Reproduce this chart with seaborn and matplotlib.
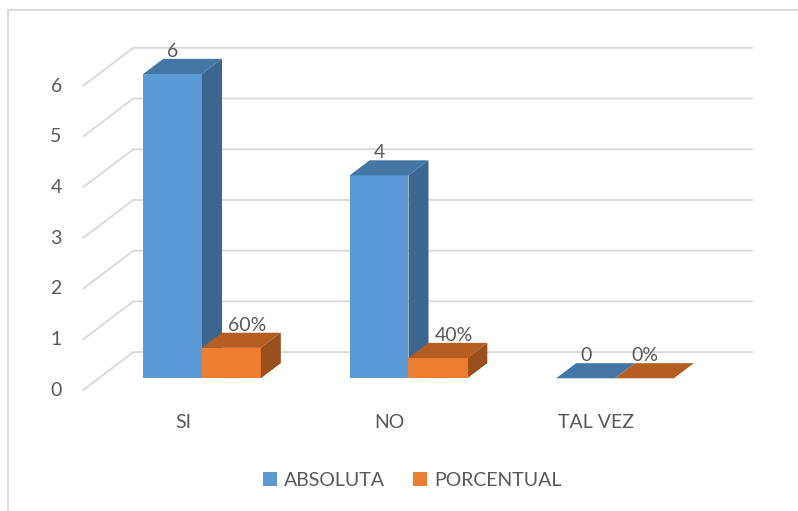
import matplotlib
matplotlib.use("Agg")
import numpy as np
import pandas as pd
import seaborn as sns
import matplotlib.pyplot as plt
from matplotlib.patches import Polygon, Patch, Rectangle

# ---- data ----
categorias = ["SI", "NO", "TAL VEZ"]
series = ["ABSOLUTA", "PORCENTUAL"]
absoluta = [6, 4, 0]
porcentual = [0.60, 0.40, 0.00]
yticks = [0, 1, 2, 3, 4, 5, 6]

df = pd.DataFrame({
    "categoria": categorias * 2,
    "serie": [series[0]] * len(categorias) + [series[1]] * len(categorias),
    "valor": absoluta + porcentual,
})

# ---- styling ----
FRONT = ["#5B9BD5", "#ED7D31"]
TOP = ["#4577A6", "#B65D22"]
SIDE = ["#3A6690", "#9A4F1D"]
GRID = "#D9D9D9"
TEXT = "#595959"
FS = 14

sns.set_theme(style="white")
plt.rcParams["font.family"] = ["Lato", "DejaVu Sans"]

fig = plt.figure(figsize=(7.98, 5.11), dpi=100)
ax = fig.add_axes([0.12375, 0.2597, 0.7763, 0.5955])

sns.barplot(data=df, x="categoria", y="valor", hue="serie",
            order=categorias, hue_order=series, palette=FRONT,
            width=0.57, gap=0, saturation=1, linewidth=0,
            errorbar=None, legend=False, ax=ax)

ax.set_xlim(-0.5, 2.5)
ax.set_ylim(0, 6)
for s in ax.spines.values():
    s.set_visible(False)
ax.grid(False)
ax.set_xticks([])
ax.set_yticks([])
ax.set_xlabel("")
ax.set_ylabel("")
ax.patch.set_alpha(0)


def px_to_data(dx, dy):
    """Convert a pixel displacement into data units of the axes."""
    p0 = ax.transData.transform((0.0, 0.0))
    return ax.transData.inverted().transform(p0 + np.array([dx, dy]))


# perspective depth of the floor (pixels) and where the bars sit in it
DEPTH_PX = (50.6, 38.3)
FRONT_FRAC = 0.316
BAR_FRAC = 0.395

fdx, fdy = px_to_data(-FRONT_FRAC * DEPTH_PX[0], -FRONT_FRAC * DEPTH_PX[1])
bkx, bky = px_to_data((1 - FRONT_FRAC) * DEPTH_PX[0], (1 - FRONT_FRAC) * DEPTH_PX[1])
bx, by = px_to_data(BAR_FRAC * DEPTH_PX[0], BAR_FRAC * DEPTH_PX[1])
x_lo, x_hi = ax.get_xlim()

# back wall and left wall gridlines
for v in yticks:
    ax.plot([x_lo + fdx, x_lo + bkx, x_hi + bkx],
            [v + fdy, v + bky, v + bky],
            color=GRID, lw=1.3, zorder=1, clip_on=False,
            solid_capstyle="butt")
    ax.annotate(str(v), (x_lo + fdx, v + fdy), xytext=(-21, 0),
                textcoords="offset pixels", ha="right", va="center",
                fontsize=FS, color=TEXT, annotation_clip=False)

# category labels on the front edge of the floor
for i, cat in enumerate(categorias):
    ax.annotate(cat, (i + fdx, fdy), xytext=(-3, -32),
                textcoords="offset pixels", ha="center", va="center",
                fontsize=FS, color=TEXT, annotation_clip=False)

# 3D faces for every bar drawn by seaborn
values = [absoluta, porcentual]
heights_prev = None
for k, cont in enumerate(ax.containers):
    for j, bar in enumerate(cont):
        x0 = bar.get_x()
        w = bar.get_width()
        h = bar.get_height()
        x1 = x0 + w
        bar.set_zorder(2 + 2 * k)
        bar.set_clip_on(False)
        top = Polygon([(x0, h), (x1, h), (x1 + bx, h + by), (x0 + bx, h + by)],
                      closed=True, facecolor=TOP[k], edgecolor="none",
                      zorder=3 + 2 * k, clip_on=False)
        side = Polygon([(x1, 0), (x1, h), (x1 + bx, h + by), (x1 + bx, by)],
                       closed=True, facecolor=SIDE[k], edgecolor="none",
                       zorder=3 + 2 * k, clip_on=False)
        ax.add_patch(top)
        ax.add_patch(side)

        v = values[k][j]
        label = f"{v:g}" if k == 0 else f"{v:.0%}"
        shift = 0.0
        if k == 1 and values[0][j] > h:
            shift = 0.78 * bx
        ax.annotate(label, (x0 + w / 2 + shift, h + by), xytext=(0, 2),
                    textcoords="offset pixels", ha="center", va="baseline",
                    fontsize=FS, color=TEXT, zorder=10,
                    annotation_clip=False)

# legend
handles = [Patch(facecolor=c, edgecolor="none") for c in FRONT]
fig.legend(handles=handles, labels=series, loc="center",
           bbox_to_anchor=(412 / 798, 1 - 480 / 511), ncol=2, frameon=False,
           fontsize=FS, handlelength=0.72, handleheight=0.72,
           handletextpad=0.36, columnspacing=1.44, labelcolor=TEXT)

# chart area border
fig.add_artist(Rectangle((7.5 / 798, -0.1), 1.2, 1.0795, transform=fig.transFigure,
                         fill=False, edgecolor=GRID, lw=1.3))

fig.savefig("out.png", dpi=100)
